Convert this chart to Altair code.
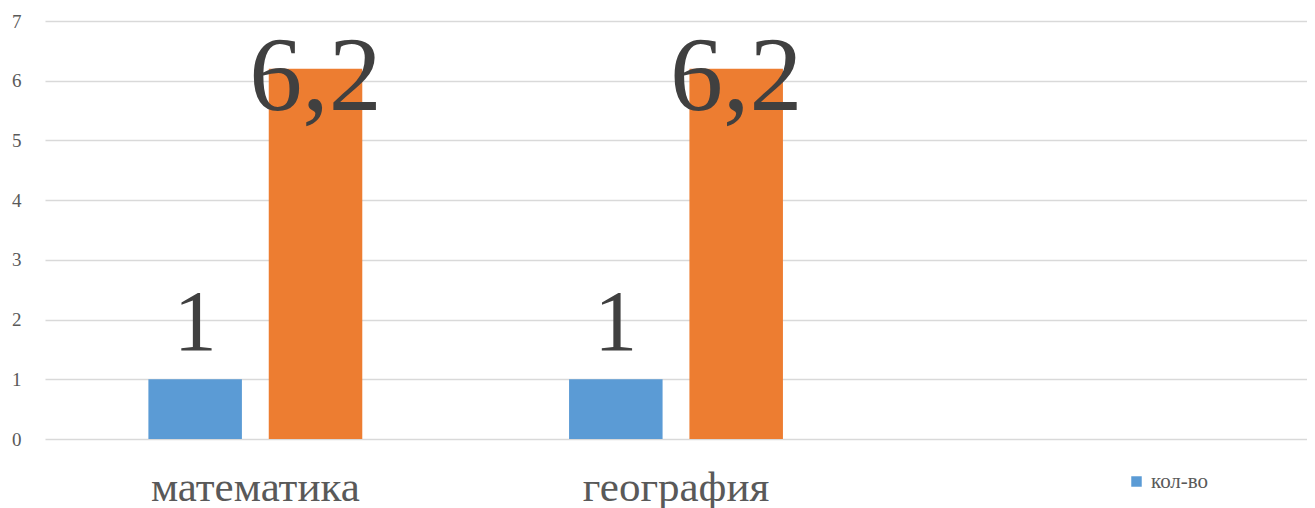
import altair as alt
import pandas as pd

categories = ["математика", "география"]
slots = ["математика", "география", " "]
series_names = ["кол-во", "балл"]
values_count = [1, 1]
values_score = [6.2, 6.2]
y_ticks = [0, 1, 2, 3, 4, 5, 6, 7]

rows = []
for c, a, b in zip(categories, values_count, values_score):
    rows.append({"cat": c, "series": series_names[0], "value": a,
                 "label": f"{a:g}".replace(".", ",")})
    rows.append({"cat": c, "series": series_names[1], "value": b,
                 "label": f"{b:g}".replace(".", ",")})
df = pd.DataFrame(rows)

FONT = "Liberation Serif"

x = alt.X("cat:N", scale=alt.Scale(domain=slots, paddingInner=0, paddingOuter=0),
          sort=slots,
          axis=alt.Axis(title=None, labelAngle=0, labelFont=FONT, labelFontSize=43,
                        labelColor="#595959", labelBaseline="alphabetic", labelLimit=0,
                        labelPadding=61, ticks=False, tickSize=0, domain=False,
                        grid=False))
xo = alt.XOffset("series:N", sort=series_names,
                 scale=alt.Scale(domain=series_names, paddingInner=0.223, paddingOuter=0.859))
y = alt.Y("value:Q", scale=alt.Scale(domain=[0, 7], nice=False),
          axis=alt.Axis(title=None, values=y_ticks, labelFont=FONT, labelFontSize=19,
                        labelColor="#595959", labelPadding=24, ticks=False, tickSize=0,
                        domain=False, grid=True, gridColor="#d9d9d9", gridWidth=1.5))

bars = alt.Chart(df).mark_bar().encode(
    x=x, xOffset=xo, y=y,
    color=alt.Color("series:N",
                    scale=alt.Scale(domain=series_names, range=["#5B9BD5", "#ED7D31"]),
                    legend=alt.Legend(title=None, values=[series_names[0]], orient="none",
                                      legendX=1081, legendY=450, symbolType="square",
                                      symbolSize=110, symbolStrokeWidth=0,
                                      labelFont=FONT, labelFontSize=21,
                                      labelColor="#595959", labelOffset=4, padding=0)),
)

lab1 = alt.Chart(df).transform_filter(alt.datum.series == series_names[0]).mark_text(
    font=FONT, fontSize=86, color="#404040", baseline="alphabetic", dy=-29
).encode(x=x, xOffset=xo, y=y, text="label:N")

lab2 = alt.Chart(df).transform_filter(alt.datum.series == series_names[1]).mark_text(
    font=FONT, fontSize=106, color="#404040", baseline="alphabetic", dy=41
).encode(x=x, xOffset=xo, y=y, text="label:N")

chart = alt.layer(bars, lab1, lab2).properties(
    width=1262, height=418,
    autosize=alt.AutoSizeParams(type="none"),
    padding={"left": 37, "top": 13, "right": 0, "bottom": 69},
    background="white",
).configure_view(stroke=None)

chart.save("out.html", embed_options={"renderer": "svg", "actions": False})
